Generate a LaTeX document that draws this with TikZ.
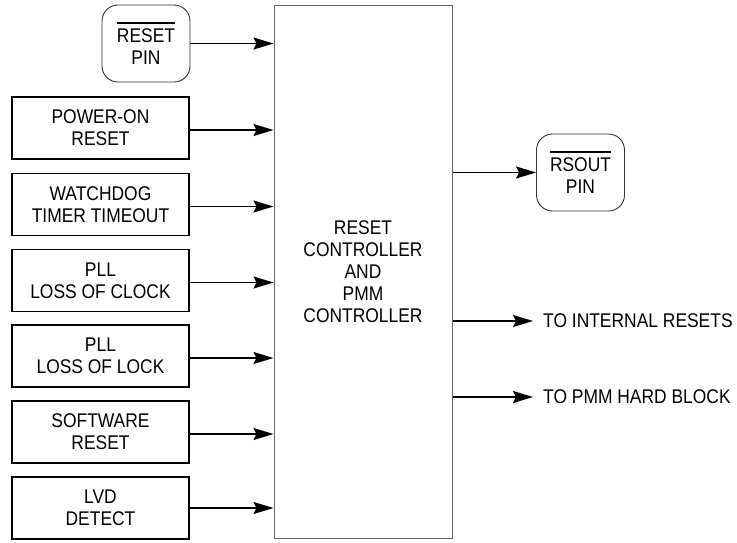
\documentclass[tikz,border=0pt]{standalone}
\usepackage{fontspec}
\setmainfont[FakeStretch=0.88]{Liberation Sans}
\usetikzlibrary{arrows.meta}
\newcommand{\ovbar}[1]{\vbox{\hrule height 1.8pt\kern 4.5pt\hbox{#1}}}
\begin{document}
\begin{tikzpicture}[x=1pt,y=-1pt,
  every node/.style={font=\fontsize{19.8}{22}\selectfont, align=center, text=black},
  srcbox/.style={draw=black, line width=1.8pt, minimum width=177pt, minimum height=62pt, inner sep=0pt},
  pinbox/.style={draw=black!80, line width=0.9pt, rounded corners=16pt, minimum width=88pt, minimum height=77pt, inner sep=0pt},
  ctrlbox/.style={draw=black!60, line width=1pt, minimum width=178pt, minimum height=533pt, inner sep=0pt},
  outlbl/.style={anchor=west, inner xsep=10pt, inner ysep=0pt},
  sig/.style={line width=1.6pt, -{Stealth[length=20pt,width=12pt,inset=3pt]}}
]
\useasboundingbox (0,0) rectangle (737,542);
\node[ctrlbox] (ctrl) at (363,271.5) {RESET\\CONTROLLER\\AND\\PMM\\CONTROLLER};

\node[pinbox] (rpin) at (146,43.5) {\ovbar{RESET}\\PIN};
\node[srcbox] (por) at (100.5,128) {POWER-ON\\RESET};
\node[srcbox] (wdt) at (100.5,204.5) {WATCHDOG\\TIMER TIMEOUT};
\node[srcbox] (loc) at (100.5,280.5) {PLL\\LOSS OF CLOCK};
\node[srcbox] (lol) at (100.5,356) {PLL\\LOSS OF LOCK};
\node[srcbox] (sw) at (100.5,432) {SOFTWARE\\RESET};
\node[srcbox] (lvd) at (100.5,508) {LVD\\DETECT};

\node[pinbox] (opin) at (580.5,172.5) {\ovbar{RSOUT}\\PIN};
\node[outlbl] (ir) at (533,321) {TO INTERNAL RESETS};
\node[outlbl] (pmm) at (533,397) {TO PMM HARD BLOCK};

\draw[sig] (rpin.east) -- (rpin.east -| ctrl.west);
\foreach \s in {por,wdt,loc,lol,sw}
  \draw[sig] ([yshift=-2pt]\s.east) -- ([yshift=-2pt]\s.east -| ctrl.west);
\draw[sig] (lvd.east) -- (lvd.east -| ctrl.west);

\draw[sig] (opin.west -| ctrl.east) -- (opin.west);
\draw[sig] (ir.west -| ctrl.east) -- (ir.west);
\draw[sig] (pmm.west -| ctrl.east) -- (pmm.west);
\end{tikzpicture}
\end{document}
